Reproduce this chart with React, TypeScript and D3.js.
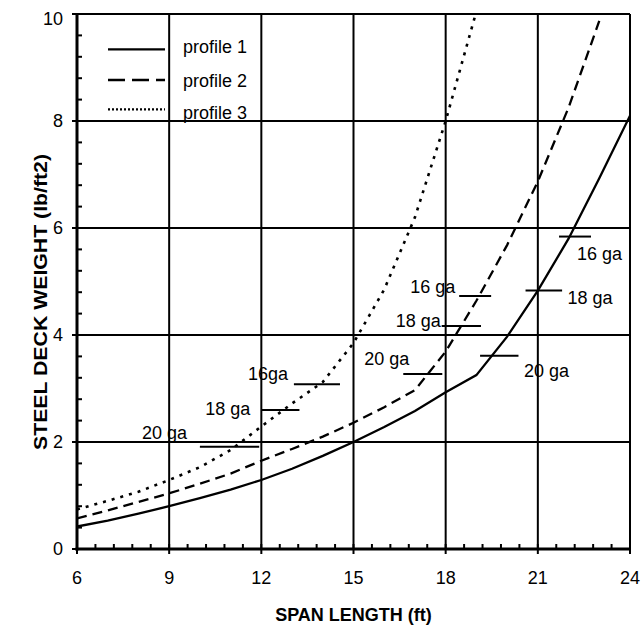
import React, { useEffect, useRef } from "react";
import * as d3 from "d3";

// span length (ft) at which each profile was tabulated
const spans = [6, 7, 8, 9, 10, 11, 12, 13, 14, 15, 16, 17, 18, 19, 20, 21, 22, 23, 24];

// steel deck weight (lb/ft2)
const profile1 = [0.42, 0.53, 0.66, 0.8, 0.95, 1.11, 1.29, 1.5, 1.74, 2.0, 2.28, 2.58, 2.93, 3.25, 3.97, 4.83, 5.8, 6.93, 8.1];
const profile2 = [0.57, 0.72, 0.88, 1.04, 1.22, 1.41, 1.65, 1.87, 2.1, 2.36, 2.65, 2.97, 3.69, 4.64, 5.68, 6.87, 8.25, 9.87];
const profile3 = [0.74, 0.9, 1.07, 1.29, 1.53, 1.85, 2.29, 2.72, 3.12, 3.85, 4.85, 6.2, 8.0, 10.05];

const seriesNames = ["profile 1", "profile 2", "profile 3"];

// gauge markers: span range and weight for each profile
const gaugeLabels1 = ["20 ga", "18 ga", "16 ga"];
const gaugeFrom1 = [19.12, 20.6, 21.69];
const gaugeTo1 = [20.37, 21.79, 22.73];
const gaugeWeight1 = [3.61, 4.83, 5.84];

const gaugeLabels2 = ["20 ga", "18 ga", "16 ga"];
const gaugeFrom2 = [16.62, 17.87, 18.44];
const gaugeTo2 = [17.89, 19.15, 19.48];
const gaugeWeight2 = [3.27, 4.17, 4.73];

const gaugeLabels3 = ["20 ga", "18 ga", "16ga"];
const gaugeFrom3 = [10, 12.0, 13.06];
const gaugeTo3 = [11.93, 13.24, 14.56];
const gaugeWeight3 = [1.91, 2.6, 3.08];

const xTicks = [6, 9, 12, 15, 18, 21, 24];
const yTicks = [0, 2, 4, 6, 8, 10];

export default function App() {
  const ref = useRef<SVGSVGElement>(null);

  useEffect(() => {
    const width = 643, height = 628;
    const left = 77, right = 630, top = 14, bottom = 549;
    const font = "'Liberation Sans', Arial, sans-serif";

    const svg = d3.select(ref.current);
    svg.selectAll("*").remove();

    const x = d3.scaleLinear().domain([6, 24]).range([left, right]);
    const y = d3.scaleLinear().domain([0, 10]).range([bottom, top]);

    svg.append("defs").append("clipPath").attr("id", "plot")
      .append("rect").attr("x", left).attr("y", top)
      .attr("width", right - left).attr("height", bottom - top);

    // grid
    svg.append("g").selectAll("line").data(xTicks.slice(1)).enter().append("line")
      .attr("x1", d => x(d)).attr("x2", d => x(d))
      .attr("y1", top).attr("y2", bottom)
      .attr("stroke", "#000").attr("stroke-width", 2);
    svg.append("g").selectAll("line").data(yTicks.slice(1)).enter().append("line")
      .attr("x1", left).attr("x2", right)
      .attr("y1", d => y(d)).attr("y2", d => y(d))
      .attr("stroke", "#000").attr("stroke-width", 2);

    // curves
    const line = d3.line<[number, number]>().x(d => x(d[0])).y(d => y(d[1]));
    const dashes = ["none", "10,6", "3,6"];
    const series = [profile1, profile2, profile3];
    const curves = svg.append("g").attr("clip-path", "url(#plot)");
    series.forEach((vals, i) => {
      const pts = vals.map((v, j) => [spans[j], v] as [number, number]);
      curves.append("path")
        .attr("d", line(pts))
        .attr("fill", "none")
        .attr("stroke", "#000")
        .attr("stroke-width", i == 2 ? 2.6 : 2.3)
        .attr("stroke-dasharray", dashes[i]);
    });

    // gauge markers
    const gauges = [
      { labels: gaugeLabels1, from: gaugeFrom1, to: gaugeTo1, w: gaugeWeight1, off: [[44, 21], [42, 13], [18, 23]] },
      { labels: gaugeLabels2, from: gaugeFrom2, to: gaugeTo2, w: gaugeWeight2, off: [[-39, -9], [-46, 1], [-49, -3]] },
      { labels: gaugeLabels3, from: gaugeFrom3, to: gaugeTo3, w: gaugeWeight3, off: [[-58, -8], [-56, 5], [-46, -4]] },
    ];
    const gg = svg.append("g");
    gauges.forEach(g => {
      g.labels.forEach((lab, i) => {
        gg.append("line")
          .attr("x1", x(g.from[i])).attr("x2", x(g.to[i]))
          .attr("y1", y(g.w[i])).attr("y2", y(g.w[i]))
          .attr("stroke", "#000").attr("stroke-width", 2);
        gg.append("text")
          .attr("x", x(g.from[i]) + g.off[i][0])
          .attr("y", y(g.w[i]) + g.off[i][1])
          .attr("font-family", font).attr("font-size", 18)
          .text(lab);
      });
    });

    // axes
    const axes = svg.append("g");
    axes.append("line").attr("x1", left).attr("x2", left).attr("y1", top - 1).attr("y2", bottom + 1.5)
      .attr("stroke", "#000").attr("stroke-width", 3);
    axes.append("line").attr("x1", left - 1.5).attr("x2", right + 1).attr("y1", bottom).attr("y2", bottom)
      .attr("stroke", "#000").attr("stroke-width", 3);

    const yMinor = d3.range(0, 10.001, 0.4);
    axes.selectAll(".ymin").data(yMinor).enter().append("line")
      .attr("x1", left).attr("x2", left + 5)
      .attr("y1", d => y(d)).attr("y2", d => y(d))
      .attr("stroke", "#000").attr("stroke-width", 2);
    axes.selectAll(".ymaj").data(yTicks).enter().append("line")
      .attr("x1", left - 5).attr("x2", left)
      .attr("y1", d => y(d)).attr("y2", d => y(d))
      .attr("stroke", "#000").attr("stroke-width", 2);
    const xMinor = d3.range(6, 24.001, 0.6);
    axes.selectAll(".xmin").data(xMinor).enter().append("line")
      .attr("x1", d => x(d)).attr("x2", d => x(d))
      .attr("y1", bottom - 5).attr("y2", bottom)
      .attr("stroke", "#000").attr("stroke-width", 2);
    axes.selectAll(".xmaj").data(xTicks).enter().append("line")
      .attr("x1", d => x(d)).attr("x2", d => x(d))
      .attr("y1", bottom).attr("y2", bottom + 5)
      .attr("stroke", "#000").attr("stroke-width", 2);

    // top label sits a little lower so it stays inside the page
    axes.selectAll(".ylab").data(yTicks).enter().append("text")
      .attr("x", 63).attr("y", d => Math.max(y(d), 19)).attr("dy", "0.35em")
      .attr("text-anchor", "end")
      .attr("font-family", font).attr("font-size", 18)
      .text(d => d);
    axes.selectAll(".xlab").data(xTicks).enter().append("text")
      .attr("x", d => x(d)).attr("y", 584)
      .attr("text-anchor", "middle")
      .attr("font-family", font).attr("font-size", 18)
      .text(d => d);

    // titles
    svg.append("text")
      .attr("x", (left + right) / 2).attr("y", 621)
      .attr("text-anchor", "middle")
      .attr("font-family", font).attr("font-size", 18).attr("font-weight", "bold")
      .text("SPAN LENGTH (ft)");
    svg.append("text")
      .attr("transform", "translate(47,302) rotate(-90)")
      .attr("text-anchor", "middle")
      .attr("font-family", font).attr("font-size", 19).attr("font-weight", "bold")
      .attr("textLength", 296).attr("lengthAdjust", "spacingAndGlyphs")
      .text("STEEL DECK WEIGHT (lb/ft2)");

    // legend
    const legendY = [49.3, 80, 109.3];
    const legendText = [53.3, 86.7, 119.3];
    const legendDash = ["none", "17,7", "2,2"];
    const lg = svg.append("g");
    seriesNames.forEach((name, i) => {
      lg.append("line")
        .attr("x1", 108).attr("x2", 165)
        .attr("y1", legendY[i]).attr("y2", legendY[i])
        .attr("stroke", "#000").attr("stroke-width", 2.3)
        .attr("stroke-dasharray", legendDash[i]);
      lg.append("text")
        .attr("x", 183).attr("y", legendText[i])
        .attr("font-family", font).attr("font-size", 18)
        .text(name);
    });

    svg.attr("width", width).attr("height", height);
  }, []);

  return (
    <svg ref={ref} width={643} height={628}
      style={{ position: "absolute", left: 0, top: 0, background: "#fff" }} />
  );
}
